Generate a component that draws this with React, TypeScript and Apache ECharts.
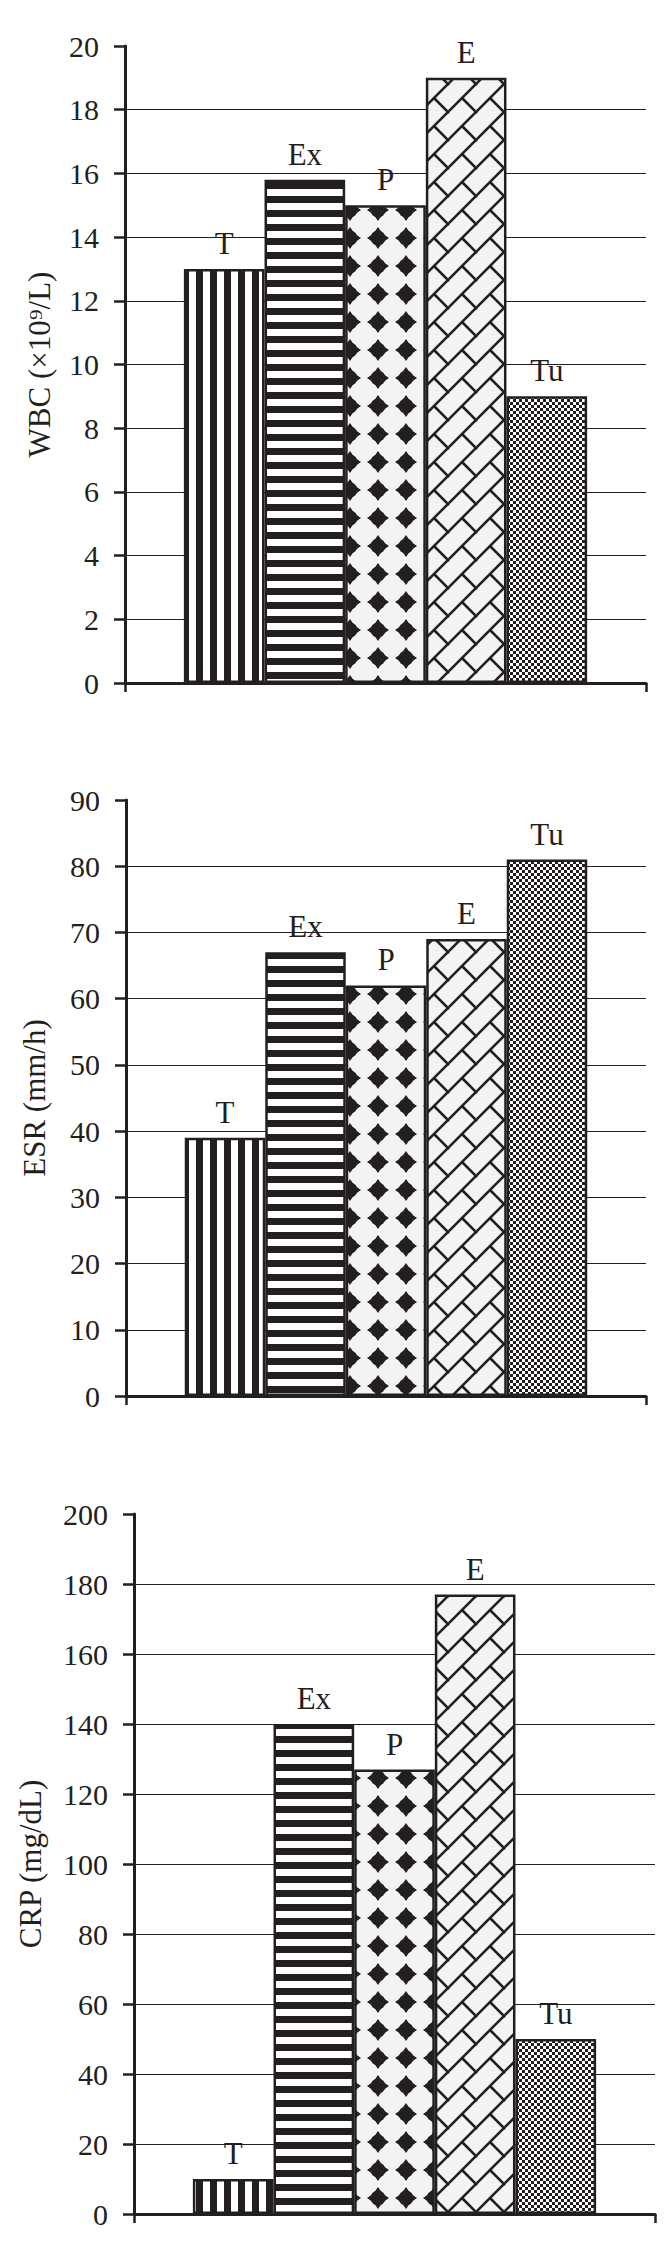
import React, { useEffect, useRef } from "react";
import * as echarts from "echarts";

// ---- data ----
const groups = ["T", "Ex", "P", "E", "Tu"];
const wbcValues = [13, 15.8, 15, 19, 9];
const esrValues = [39, 67, 62, 69, 81];
const crpValues = [10, 140, 127, 177, 50];

const panelTitles = ["WBC (×10⁹/L)", "ESR (mm/h)", "CRP (mg/dL)"];
const panelMax = [20, 90, 200];
const panelInterval = [2, 10, 20];

const INK = "#231f20";
const FONT = "Liberation Serif";

function tile(w: number, h: number, draw: (ctx: CanvasRenderingContext2D) => void) {
  const c = document.createElement("canvas");
  c.width = w;
  c.height = h;
  const ctx = c.getContext("2d")!;
  draw(ctx);
  return { image: c, repeat: "repeat", imageWidth: w, imageHeight: h } as any;
}

function makePatterns() {
  const vStripes = tile(14, 14, (ctx) => {
    ctx.fillStyle = "#fff";
    ctx.fillRect(0, 0, 14, 14);
    ctx.fillStyle = INK;
    ctx.fillRect(0, 0, 7, 14);
  });
  const hStripes = tile(14, 14, (ctx) => {
    ctx.fillStyle = "#fff";
    ctx.fillRect(0, 0, 14, 14);
    ctx.fillStyle = INK;
    ctx.fillRect(0, 0, 14, 7);
  });
  const stars = tile(28, 28, (ctx) => {
    ctx.fillStyle = "#f3f3f3";
    ctx.fillRect(0, 0, 28, 28);
    ctx.fillStyle = INK;
    ctx.beginPath();
    ctx.arc(14, 14, 7.5, 0, Math.PI * 2);
    ctx.fill();
    ctx.beginPath();
    ctx.moveTo(14, 3);
    ctx.lineTo(18.5, 9.5);
    ctx.lineTo(25, 14);
    ctx.lineTo(18.5, 18.5);
    ctx.lineTo(14, 25);
    ctx.lineTo(9.5, 18.5);
    ctx.lineTo(3, 14);
    ctx.lineTo(9.5, 9.5);
    ctx.closePath();
    ctx.fill();
  });
  const bricks = tile(28, 28, (ctx) => {
    ctx.fillStyle = "#f3f3f3";
    ctx.fillRect(0, 0, 28, 28);
    ctx.strokeStyle = INK;
    ctx.lineWidth = 2.6;
    for (const s of [0, 28, 56]) {
      ctx.beginPath();
      ctx.moveTo(s - 30, 30);
      ctx.lineTo(s + 2, -2);
      ctx.stroke();
    }
    ctx.beginPath();
    ctx.moveTo(14, 14);
    ctx.lineTo(29, 29);
    ctx.stroke();
    ctx.beginPath();
    ctx.moveTo(-14, -14);
    ctx.lineTo(1, 1);
    ctx.stroke();
  });
  const checks = tile(6, 6, (ctx) => {
    ctx.fillStyle = "#fff";
    ctx.fillRect(0, 0, 6, 6);
    ctx.fillStyle = INK;
    ctx.fillRect(0, 0, 3, 3);
    ctx.fillRect(3, 3, 3, 3);
  });
  return [vStripes, hStripes, stars, bricks, checks];
}

const grids = [
  { left: 125, width: 521, top: 46, height: 637 },
  { left: 126, width: 520, top: 800, height: 596 },
  { left: 134, width: 521, top: 1514, height: 700 },
];
const nameGaps = [70, 76, 88];

export default function App() {
  const ref = useRef<HTMLDivElement>(null);
  useEffect(() => {
    document.body.style.margin = "0";
    if (!ref.current) return;
    const chart = echarts.init(ref.current, undefined, { renderer: "svg" });
    const patterns = makePatterns();
    const panels = [wbcValues, esrValues, crpValues];

    const series: any[] = [];
    panels.forEach((vals, p) => {
      groups.forEach((g, i) => {
        series.push({
          type: "bar",
          name: g,
          xAxisIndex: p,
          yAxisIndex: p,
          data: [vals[i]],
          barGap: "0%",
          barCategoryGap: "22.6%",
          itemStyle: {
            color: patterns[i],
            borderColor: INK,
            borderWidth: 2.5,
          },
          label: {
            show: true,
            position: "top",
            distance: 10,
            formatter: "{a}",
            fontFamily: FONT,
            fontSize: 31,
            color: INK,
          },
        });
      });
    });

    chart.setOption({
      animation: false,
      backgroundColor: "#fff",
      textStyle: { fontFamily: FONT },
      grid: grids.map((g) => ({ ...g, containLabel: false })),
      xAxis: grids.map((_, p) => ({
        type: "category",
        gridIndex: p,
        data: [""],
        axisLine: { show: true, lineStyle: { color: INK, width: 3 } },
        axisTick: { show: true, length: 9, lineStyle: { color: INK, width: 2.5 } },
        axisLabel: { show: false },
        splitLine: { show: false },
      })),
      yAxis: grids.map((_, p) => ({
        type: "value",
        gridIndex: p,
        min: 0,
        max: panelMax[p],
        interval: panelInterval[p],
        name: panelTitles[p],
        nameLocation: "middle",
        nameGap: nameGaps[p],
        nameTextStyle: { fontFamily: FONT, fontSize: 31, color: INK },
        axisLine: { show: true, lineStyle: { color: INK, width: 3 } },
        axisTick: { show: true, length: 11, lineStyle: { color: INK, width: 2.5 } },
        axisLabel: { margin: 26, fontFamily: FONT, fontSize: 30, color: INK },
        splitLine: {
          show: true,
          showMaxLine: false,
          showMinLine: false,
          lineStyle: { color: INK, width: 1 },
        },
      })),
      series,
    });
    return () => chart.dispose();
  }, []);
  return <div ref={ref} style={{ width: 672, height: 2267 }} />;
}
